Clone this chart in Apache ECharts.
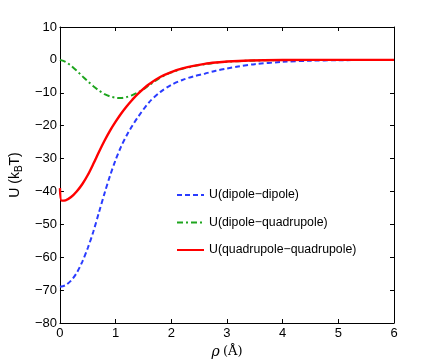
<!DOCTYPE html>
<html>
<head>
<meta charset="utf-8">
<title>U vs rho</title>
<script src="https://cdn.jsdelivr.net/npm/echarts@6/dist/echarts.min.js"></script>
<style>
html,body{margin:0;padding:0;background:#fff;}
#main{width:436px;height:364px;}
</style>
</head>
<body>
<div id="main"></div>
<script>
// values
var xTicks = [0, 1, 2, 3, 4, 5, 6];
var yTicks = [10, 0, -10, -20, -30, -40, -50, -60, -70, -80];

var rhoDD = [0, 0.1, 0.2, 0.3, 0.4, 0.5, 0.6, 0.7, 0.8, 0.9, 1.0, 1.1, 1.2, 1.3, 1.4, 1.6, 1.8, 2.0, 2.2, 2.4, 2.6, 2.8, 3.0, 3.2, 3.5, 4.0, 4.5, 5.0, 6.0];
var uDD   = [-69, -68.5, -67.1, -64.8, -61.4, -57.2, -52.2, -46.4, -40.6, -35.2, -30.4, -26.3, -22.9, -20.0, -17.4, -12.9, -9.8, -7.6, -6.1, -5.0, -4.2, -3.3, -2.6, -2.0, -1.3, -0.6, -0.25, -0.1, 0];

var rhoDQ = [0, 0.1, 0.2, 0.3, 0.4, 0.5, 0.6, 0.7, 0.8, 0.9, 1.0, 1.1, 1.2, 1.3, 1.4, 1.5, 1.6, 1.8, 2.0, 2.2, 2.4, 2.6, 2.8, 3.0, 3.4, 4.0, 5.0, 6.0];
var uDQ   = [0, -0.6, -1.8, -3.3, -4.9, -6.5, -8.0, -9.3, -10.4, -11.1, -11.5, -11.6, -11.3, -10.7, -9.9, -8.9, -7.7, -5.4, -3.8, -2.7, -1.9, -1.3, -0.85, -0.55, -0.25, -0.05, 0, 0];

var rhoQQ = [0, 0.03, 0.1, 0.2, 0.3, 0.4, 0.5, 0.6, 0.7, 0.8, 0.9, 1.0, 1.1, 1.2, 1.3, 1.4, 1.6, 1.8, 2.0, 2.2, 2.4, 2.6, 2.8, 3.0, 3.4, 4.0, 5.0, 6.0];
var uQQ   = [-39, -42.8, -42.7, -41.7, -40.0, -37.8, -35.0, -31.6, -28.0, -24.6, -21.5, -18.8, -16.3, -14.1, -12.1, -10.3, -7.4, -5.2, -3.7, -2.6, -1.8, -1.2, -0.8, -0.5, -0.2, -0.05, 0, 0];

var names = ['U(dipole\u2212dipole)', 'U(dipole\u2212quadrupole)', 'U(quadrupole\u2212quadrupole)'];

function pairs(xs, ys) {
  var out = [];
  for (var i = 0; i < xs.length; i++) out.push([xs[i], ys[i]]);
  return out;
}
function minus(v) { return String(v).replace('-', '\u2212'); }

var font = 'Liberation Sans, Arial, sans-serif';
var chart = echarts.init(document.getElementById('main'), null, {renderer: 'canvas'});

var baseX = {
  type: 'value', min: 0, max: 6, interval: 1,
  axisLine: {show: true, onZero: false, lineStyle: {color: '#000', width: 1}},
  axisTick: {show: true, inside: true, length: 4, lineStyle: {color: '#000'}},
  splitLine: {show: false}
};
var baseY = {
  type: 'value', min: -80, max: 10, interval: 10,
  axisLine: {show: true, onZero: false, lineStyle: {color: '#000', width: 1}},
  axisTick: {show: true, inside: true, length: 4, lineStyle: {color: '#000'}},
  splitLine: {show: false}
};

var option = {
  animation: false,
  backgroundColor: '#fff',
  grid: {left: 57, right: 42, top: 27, bottom: 41, containLabel: false},
  legend: {
    orient: 'vertical', left: 176, top: 189, itemGap: 15.5, padding: 0,
    itemWidth: 27, itemHeight: 14,
    itemStyle: {opacity: 0},
    textStyle: {fontFamily: font, fontSize: 12.3, color: '#000'},
    data: names
  },
  xAxis: [
    Object.assign({}, baseX, {
      position: 'bottom',
      axisLabel: {color: '#000', fontFamily: font, fontSize: 13, margin: 4},
      name: '{g|\u03c1} {s|(\u00c5)}', nameLocation: 'middle', nameGap: 21,
      nameTextStyle: {
        rich: {
          g: {fontFamily: 'DejaVu Serif, serif', fontStyle: 'italic', fontSize: 14, color: '#000'},
          s: {fontFamily: 'DejaVu Serif, serif', fontSize: 13, color: '#000'}
        }
      }
    }),
    Object.assign({}, baseX, {position: 'top', axisLabel: {show: false}})
  ],
  yAxis: [
    Object.assign({}, baseY, {
      position: 'left',
      axisLabel: {color: '#000', fontFamily: font, fontSize: 13, margin: 3, formatter: minus},
      name: '{a|U (k}{b|B}{a|T)}', nameLocation: 'middle', nameGap: 32, nameRotate: 90,
      nameTextStyle: {
        rich: {
          a: {fontFamily: font, fontSize: 14, color: '#000'},
          b: {fontFamily: font, fontSize: 10, color: '#000', verticalAlign: 'bottom', padding: [8, 0, 0, 0]}
        }
      }
    }),
    Object.assign({}, baseY, {position: 'right', axisLabel: {show: false}})
  ],
  series: [
    {
      name: names[0], type: 'line', smooth: 0.3, symbol: 'none',
      xAxisIndex: 0, yAxisIndex: 0,
      lineStyle: {color: '#2a3cff', width: 2, type: [5, 3]},
      itemStyle: {color: '#2a3cff'},
      data: pairs(rhoDD, uDD), z: 2
    },
    {
      name: names[1], type: 'line', smooth: 0.3, symbol: 'none',
      xAxisIndex: 0, yAxisIndex: 0,
      lineStyle: {color: '#1ea51e', width: 2, type: [6, 3, 2, 3]},
      itemStyle: {color: '#1ea51e'},
      data: pairs(rhoDQ, uDQ), z: 3
    },
    {
      name: names[2], type: 'line', smooth: 0.3, symbol: 'none',
      xAxisIndex: 0, yAxisIndex: 0,
      lineStyle: {color: '#ff0000', width: 2.4},
      itemStyle: {color: '#ff0000'},
      data: pairs(rhoQQ, uQQ), z: 4
    }
  ]
};
chart.setOption(option);
</script>
</body>
</html>
